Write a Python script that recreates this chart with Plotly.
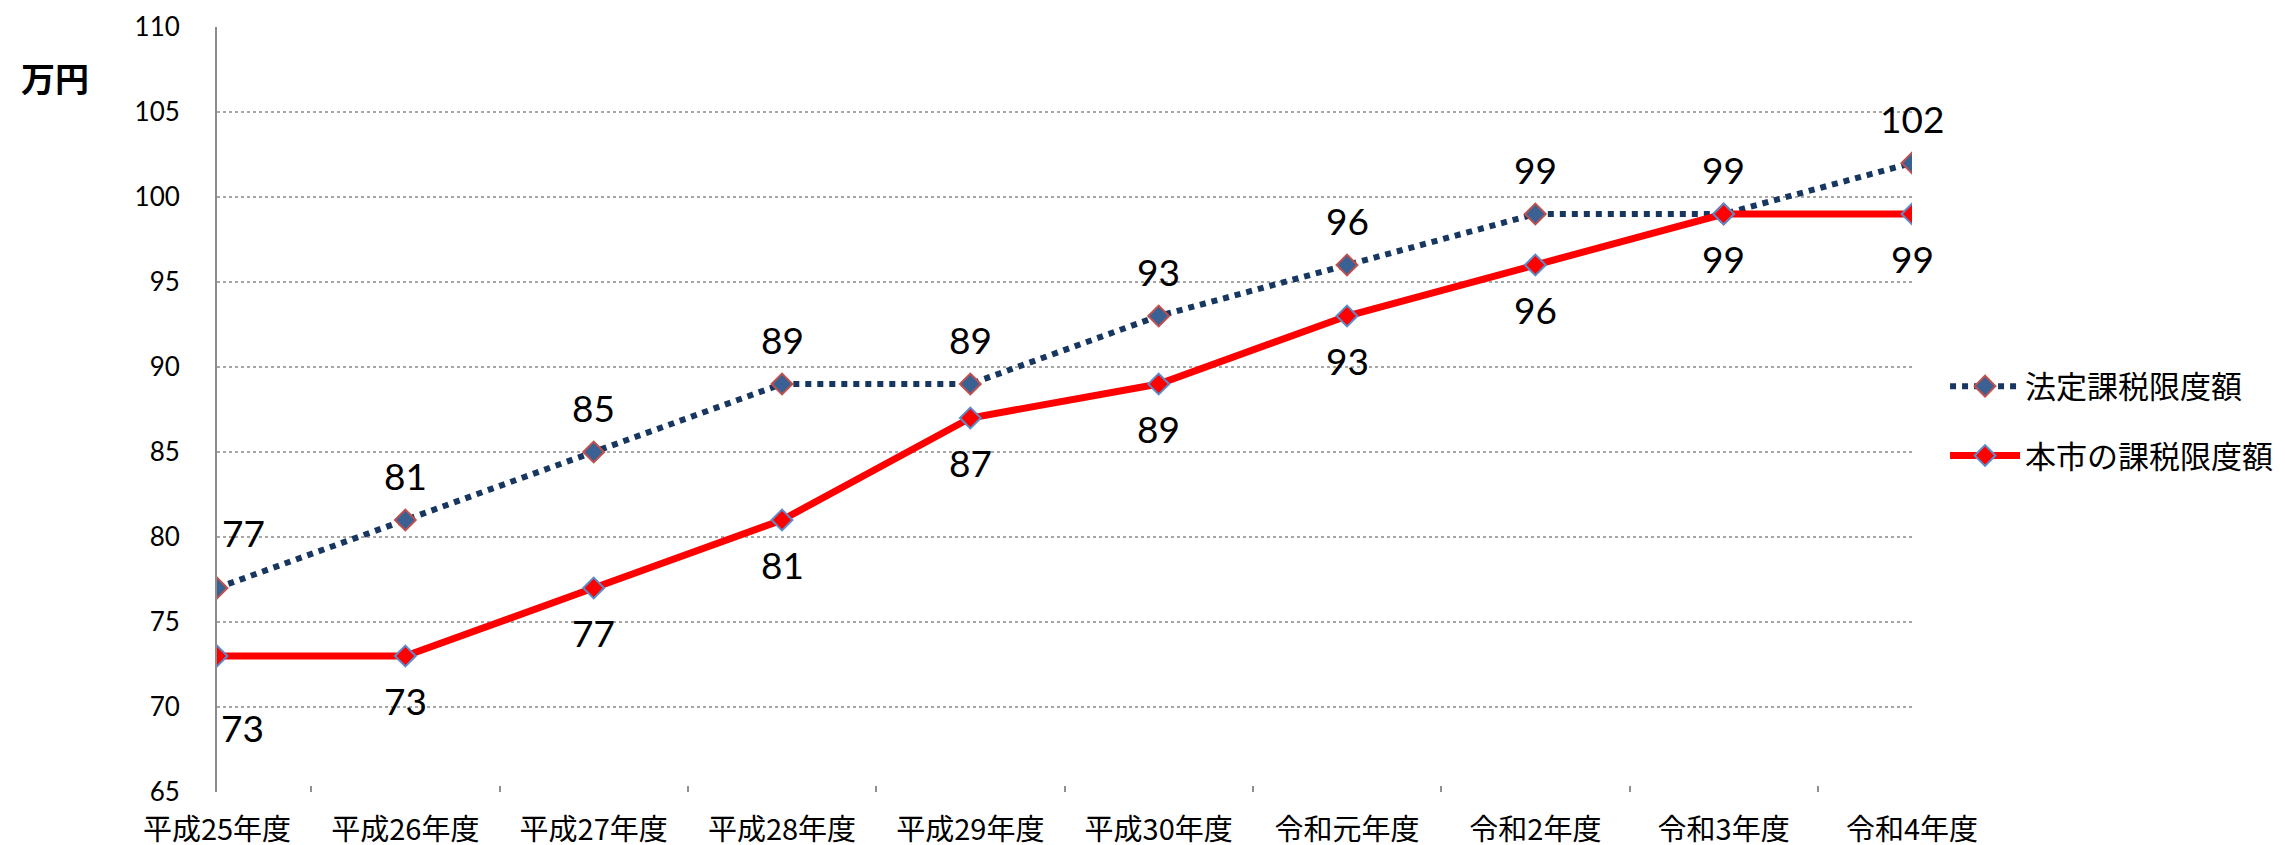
import plotly.graph_objects as go

categories = ["平成25年度", "平成26年度", "平成27年度", "平成28年度", "平成29年度",
              "平成30年度", "令和元年度", "令和2年度", "令和3年度", "令和4年度"]
legal_limit = [77, 81, 85, 89, 89, 93, 96, 99, 99, 102]
city_limit = [73, 73, 77, 81, 87, 89, 93, 96, 99, 99]
series_names = ["法定課税限度額", "本市の課税限度額"]
y_ticks = [65, 70, 75, 80, 85, 90, 95, 100, 105, 110]
unit_label = "万円"

W, H = 2285, 845
OFF = 8  # page body margin
L, R, T, B = 217 - OFF, 1912 - OFF, 27 - OFF, 792 - OFF
xs = list(range(len(categories)))
num_font = "Lato, Calibri, Liberation Sans, sans-serif"
cjk_font = "Noto Sans CJK JP, sans-serif"

fig = go.Figure()
fig.add_trace(go.Scatter(
    x=xs, y=legal_limit, name=series_names[0], mode="lines+markers",
    line=dict(color="#173760", width=6, dash="dot"),
    marker=dict(symbol="diamond", size=16, color="#3A6194",
                line=dict(color="#C0504D", width=2)),
    legendgroup="a",
))
fig.add_trace(go.Scatter(
    x=xs, y=city_limit, name=series_names[1], mode="lines+markers",
    line=dict(color="#FF0000", width=7),
    marker=dict(symbol="diamond", size=16, color="#FF0000",
                line=dict(color="#5B8BC9", width=2)),
    legendgroup="b",
))

annotations = []
for i, v in enumerate(legal_limit):
    annotations.append(dict(
        x=xs[i], y=v, text=str(v), showarrow=False,
        xshift=26 if i == 0 else 0, yshift=56 if i == 0 else 45,
        font=dict(family=num_font, size=37, color="#000000"),
    ))
for i, v in enumerate(city_limit):
    annotations.append(dict(
        x=xs[i], y=v, text=str(v), showarrow=False,
        xshift=25 if i == 0 else 0, yshift=-71 if i == 0 else -44,
        font=dict(family=num_font, size=37, color="#000000"),
    ))
annotations.append(dict(
    xref="paper", yref="paper", x=-(217 - 55) / (R - L), y=1 - (78 - 27) / (B - T),
    text="<b>" + unit_label + "</b>", showarrow=False, xanchor="center", yanchor="middle",
    font=dict(family=cjk_font, size=34, color="#000000"),
))

fig.update_layout(
    width=W, height=H,
    margin=dict(l=L, r=W - R, t=T, b=H - B, autoexpand=False),
    paper_bgcolor="white", plot_bgcolor="white",
    showlegend=True,
    legend=dict(
        x=1.0195, y=1 - (421 - 27) / (B - T), xanchor="left", yanchor="middle",
        font=dict(family=cjk_font, size=31, color="#000000"),
        itemwidth=70, tracegroupgap=26, bgcolor="rgba(0,0,0,0)",
    ),
    annotations=annotations,
)
fig.update_xaxes(
    range=[0, 9], tickmode="array", tickvals=xs, ticktext=categories,
    showgrid=False, zeroline=False, showline=False, ticks="", automargin=False,
    tickfont=dict(family=cjk_font, size=29, color="#000000"),
    ticklabelstandoff=18,
    minor=dict(tick0=0.5, dtick=1, ticks="inside", ticklen=6, tickcolor="#909090", tickwidth=1.5, showgrid=False),
)
fig.update_yaxes(
    range=[65, 110], tickmode="array", tickvals=y_ticks,
    showgrid=True, gridcolor="#A6A6A6", gridwidth=1.5, griddash="dot",
    zeroline=False, showline=True, linecolor="#8C8C8C", linewidth=2, ticks="", automargin=False,
    tickfont=dict(family=num_font, size=26, color="#000000"),
    ticklabelstandoff=30,
)

fig.write_html("out.html")
